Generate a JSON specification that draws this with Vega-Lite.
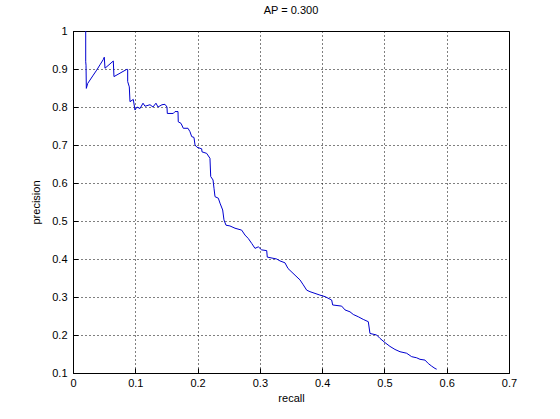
{
  "$schema": "https://vega.github.io/schema/vega-lite/v6.json",
  "width": 436,
  "height": 342,
  "autosize": {"type": "none"},
  "padding": {"left": 73, "top": 31, "right": 51, "bottom": 46},
  "background": "white",
  "title": {"text": "AP = 0.300", "font": "Liberation Sans", "fontSize": 11, "fontWeight": "normal", "color": "black", "offset": 9},
  "config": {
    "view": {"stroke": "black", "strokeWidth": 1},
    "axis": {
      "labelFont": "Liberation Sans", "labelFontSize": 11, "labelColor": "black",
      "titleFont": "Liberation Sans", "titleFontSize": 11, "titleFontWeight": "normal", "titleColor": "black",
      "domainColor": "black", "tickColor": "black",
      "gridColor": "black", "gridDash": [1, 3], "gridOpacity": 1, "gridWidth": 1,
      "format": "~g"
    }
  },
  "data": {"values": [
    {"i": 0, "recall": 0.0204, "precision": 1.0},
    {"i": 1, "recall": 0.0204, "precision": 0.919},
    {"i": 2, "recall": 0.0209, "precision": 0.91},
    {"i": 3, "recall": 0.0214, "precision": 0.849},
    {"i": 4, "recall": 0.0236, "precision": 0.862},
    {"i": 5, "recall": 0.0273, "precision": 0.871},
    {"i": 6, "recall": 0.0326, "precision": 0.884},
    {"i": 7, "recall": 0.0380, "precision": 0.897},
    {"i": 8, "recall": 0.0433, "precision": 0.911},
    {"i": 9, "recall": 0.0486, "precision": 0.925},
    {"i": 10, "recall": 0.0502, "precision": 0.931},
    {"i": 11, "recall": 0.0514, "precision": 0.902},
    {"i": 12, "recall": 0.0647, "precision": 0.921},
    {"i": 13, "recall": 0.0658, "precision": 0.88},
    {"i": 14, "recall": 0.0862, "precision": 0.899},
    {"i": 15, "recall": 0.0878, "precision": 0.899},
    {"i": 16, "recall": 0.0878, "precision": 0.867},
    {"i": 17, "recall": 0.0904, "precision": 0.853},
    {"i": 18, "recall": 0.0915, "precision": 0.814},
    {"i": 19, "recall": 0.0968, "precision": 0.82},
    {"i": 20, "recall": 0.0995, "precision": 0.792},
    {"i": 21, "recall": 0.1027, "precision": 0.80},
    {"i": 22, "recall": 0.1076, "precision": 0.796},
    {"i": 23, "recall": 0.1124, "precision": 0.81},
    {"i": 24, "recall": 0.1156, "precision": 0.802},
    {"i": 25, "recall": 0.1236, "precision": 0.806},
    {"i": 26, "recall": 0.1284, "precision": 0.80},
    {"i": 27, "recall": 0.1332, "precision": 0.81},
    {"i": 28, "recall": 0.1365, "precision": 0.80},
    {"i": 29, "recall": 0.1429, "precision": 0.806},
    {"i": 30, "recall": 0.1477, "precision": 0.807},
    {"i": 31, "recall": 0.1509, "precision": 0.80},
    {"i": 32, "recall": 0.1514, "precision": 0.783},
    {"i": 33, "recall": 0.1610, "precision": 0.783},
    {"i": 34, "recall": 0.1638, "precision": 0.788},
    {"i": 35, "recall": 0.1686, "precision": 0.788},
    {"i": 36, "recall": 0.1690, "precision": 0.761},
    {"i": 37, "recall": 0.1734, "precision": 0.757},
    {"i": 38, "recall": 0.1771, "precision": 0.744},
    {"i": 39, "recall": 0.1846, "precision": 0.744},
    {"i": 40, "recall": 0.1878, "precision": 0.735},
    {"i": 41, "recall": 0.1906, "precision": 0.722},
    {"i": 42, "recall": 0.1942, "precision": 0.72},
    {"i": 43, "recall": 0.1959, "precision": 0.70},
    {"i": 44, "recall": 0.1991, "precision": 0.694},
    {"i": 45, "recall": 0.2066, "precision": 0.69},
    {"i": 46, "recall": 0.2071, "precision": 0.682},
    {"i": 47, "recall": 0.2146, "precision": 0.678},
    {"i": 48, "recall": 0.2199, "precision": 0.665},
    {"i": 49, "recall": 0.2211, "precision": 0.617},
    {"i": 50, "recall": 0.2248, "precision": 0.608},
    {"i": 51, "recall": 0.2264, "precision": 0.586},
    {"i": 52, "recall": 0.2280, "precision": 0.564},
    {"i": 53, "recall": 0.2333, "precision": 0.56},
    {"i": 54, "recall": 0.2360, "precision": 0.547},
    {"i": 55, "recall": 0.2403, "precision": 0.529},
    {"i": 56, "recall": 0.2424, "precision": 0.503},
    {"i": 57, "recall": 0.2456, "precision": 0.489},
    {"i": 58, "recall": 0.2520, "precision": 0.487},
    {"i": 59, "recall": 0.2601, "precision": 0.481},
    {"i": 60, "recall": 0.2708, "precision": 0.476},
    {"i": 61, "recall": 0.2761, "precision": 0.463},
    {"i": 62, "recall": 0.2814, "precision": 0.454},
    {"i": 63, "recall": 0.2869, "precision": 0.441},
    {"i": 64, "recall": 0.2922, "precision": 0.428},
    {"i": 65, "recall": 0.2975, "precision": 0.432},
    {"i": 66, "recall": 0.3029, "precision": 0.424},
    {"i": 67, "recall": 0.3110, "precision": 0.422},
    {"i": 68, "recall": 0.3119, "precision": 0.405},
    {"i": 69, "recall": 0.3270, "precision": 0.40},
    {"i": 70, "recall": 0.3323, "precision": 0.395},
    {"i": 71, "recall": 0.3403, "precision": 0.39},
    {"i": 72, "recall": 0.3452, "precision": 0.375},
    {"i": 73, "recall": 0.3516, "precision": 0.365},
    {"i": 74, "recall": 0.3580, "precision": 0.355},
    {"i": 75, "recall": 0.3644, "precision": 0.345},
    {"i": 76, "recall": 0.3697, "precision": 0.332},
    {"i": 77, "recall": 0.3752, "precision": 0.318},
    {"i": 78, "recall": 0.3805, "precision": 0.314},
    {"i": 79, "recall": 0.3965, "precision": 0.305},
    {"i": 80, "recall": 0.4046, "precision": 0.301},
    {"i": 81, "recall": 0.4153, "precision": 0.292},
    {"i": 82, "recall": 0.4169, "precision": 0.279},
    {"i": 83, "recall": 0.4314, "precision": 0.276},
    {"i": 84, "recall": 0.4367, "precision": 0.266},
    {"i": 85, "recall": 0.4447, "precision": 0.261},
    {"i": 86, "recall": 0.4500, "precision": 0.254},
    {"i": 87, "recall": 0.4580, "precision": 0.248},
    {"i": 88, "recall": 0.4660, "precision": 0.241},
    {"i": 89, "recall": 0.4741, "precision": 0.235},
    {"i": 90, "recall": 0.4768, "precision": 0.204},
    {"i": 91, "recall": 0.4876, "precision": 0.20},
    {"i": 92, "recall": 0.4929, "precision": 0.191},
    {"i": 93, "recall": 0.5009, "precision": 0.18},
    {"i": 94, "recall": 0.5089, "precision": 0.17},
    {"i": 95, "recall": 0.5169, "precision": 0.162},
    {"i": 96, "recall": 0.5250, "precision": 0.156},
    {"i": 97, "recall": 0.5357, "precision": 0.152},
    {"i": 98, "recall": 0.5437, "precision": 0.143},
    {"i": 99, "recall": 0.5518, "precision": 0.14},
    {"i": 100, "recall": 0.5571, "precision": 0.136},
    {"i": 101, "recall": 0.5651, "precision": 0.134},
    {"i": 102, "recall": 0.5704, "precision": 0.125},
    {"i": 103, "recall": 0.5759, "precision": 0.118},
    {"i": 104, "recall": 0.5812, "precision": 0.112},
    {"i": 105, "recall": 0.5839, "precision": 0.110}
  ]},
  "mark": {"type": "line", "color": "#0000d0", "strokeWidth": 1, "interpolate": "linear"},
  "encoding": {
    "x": {
      "field": "recall", "type": "quantitative", "title": "recall",
      "scale": {"domain": [0, 0.7], "nice": false, "zero": false},
      "axis": {"values": [0, 0.1, 0.2, 0.3, 0.4, 0.5, 0.6, 0.7], "tickSize": -5, "labelPadding": 9, "titlePadding": 4, "labelFlush": false}
    },
    "y": {
      "field": "precision", "type": "quantitative", "title": "precision",
      "scale": {"domain": [0.1, 1], "nice": false, "zero": false},
      "axis": {"values": [0.1, 0.2, 0.3, 0.4, 0.5, 0.6, 0.7, 0.8, 0.9, 1], "tickSize": -5, "labelPadding": 11, "titlePadding": 10, "labelFlush": false}
    },
    "order": {"field": "i", "type": "quantitative"}
  }
}
